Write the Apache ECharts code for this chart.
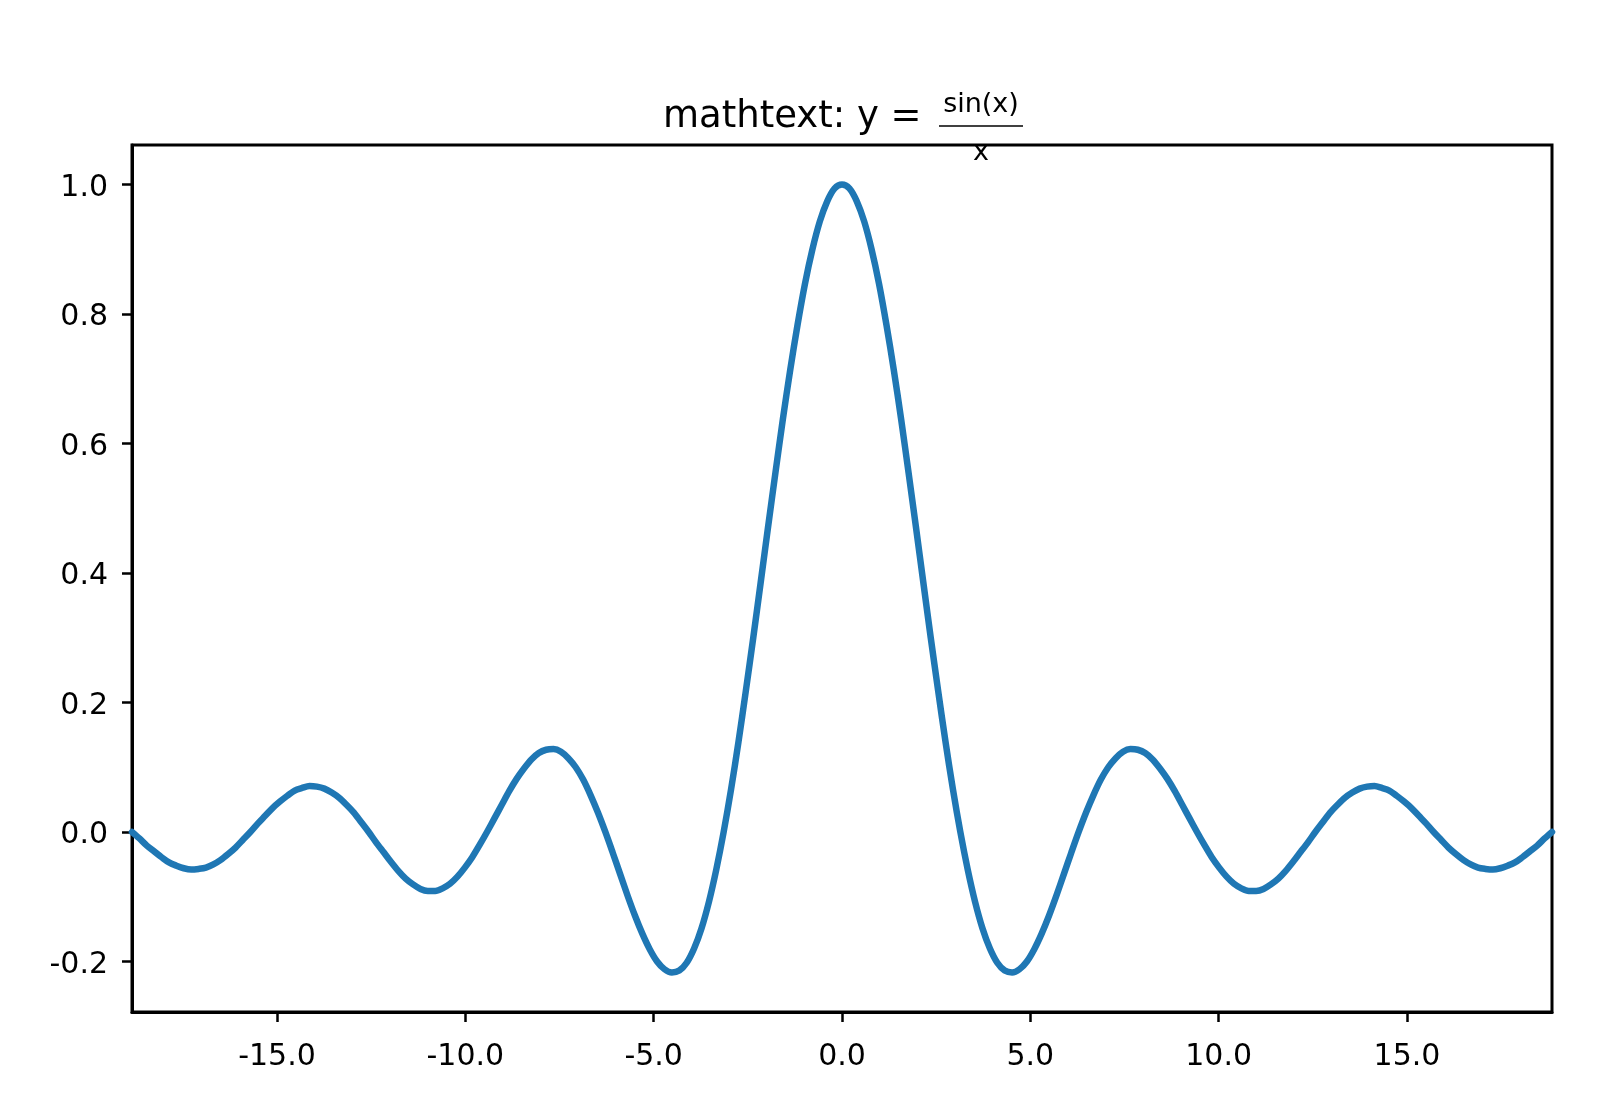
<!DOCTYPE html>
<html>
<head>
	<meta charset="utf-8" />
	<title>mathtext</title>
	<script src="https://cdn.jsdelivr.net/npm/echarts@6.0.0/dist/echarts.min.js"></script>
	<style>
		body { margin: 0; background: #fff; }
		#main { width: 1600px; height: 1120px; }
	</style>
</head>
<body>
	<div id="main"></div>
	<script type="text/javascript">
		// x positions
		var xs = [-18.850,
			-18.653, -18.457, -18.261, -18.064, -17.868, -17.671, -17.475, -17.279,
			-17.082, -16.886, -16.690, -16.493, -16.297, -16.101, -15.904, -15.708,
			-15.512, -15.315, -15.119, -14.923, -14.726, -14.530, -14.334, -14.137,
			-13.941, -13.744, -13.548, -13.352, -13.155, -12.959, -12.763, -12.566,
			-12.370, -12.174, -11.977, -11.781, -11.585, -11.388, -11.192, -10.996,
			-10.799, -10.603, -10.407, -10.210, -10.014, -9.817, -9.621, -9.425,
			-9.228, -9.032, -8.836, -8.639, -8.443, -8.247, -8.050, -7.854,
			-7.658, -7.461, -7.265, -7.069, -6.872, -6.676, -6.480, -6.283,
			-6.087, -5.890, -5.694, -5.498, -5.301, -5.105, -4.909, -4.712,
			-4.516, -4.320, -4.123, -3.927, -3.731, -3.534, -3.338, -3.142,
			-2.945, -2.749, -2.553, -2.356, -2.160, -1.963, -1.767, -1.571,
			-1.374, -1.178, -0.982, -0.785, -0.589, -0.393, -0.196,
			0, 0.196, 0.393, 0.589, 0.785, 0.982, 1.178, 1.374,
			1.571, 1.767, 1.963, 2.160, 2.356, 2.553, 2.749, 2.945,
			3.142, 3.338, 3.534, 3.731, 3.927, 4.123, 4.320, 4.516,
			4.712, 4.909, 5.105, 5.301, 5.498, 5.694, 5.890, 6.087,
			6.283, 6.480, 6.676, 6.872, 7.069, 7.265, 7.461, 7.658,
			7.854, 8.050, 8.247, 8.443, 8.639, 8.836, 9.032, 9.228,
			9.425, 9.621, 9.817, 10.014, 10.210, 10.407, 10.603, 10.799,
			10.996, 11.192, 11.388, 11.585, 11.781, 11.977, 12.174, 12.370,
			12.566, 12.763, 12.959, 13.155, 13.352, 13.548, 13.744, 13.941,
			14.137, 14.334, 14.530, 14.726, 14.923, 15.119, 15.315, 15.512,
			15.708, 15.904, 16.101, 16.297, 16.493, 16.690, 16.886, 17.082,
			17.279, 17.475, 17.671, 17.868, 18.064, 18.261, 18.457, 18.653,
			18.850];
		// y values of the curve
		var ys = [0,
			-0.010, -0.021, -0.030, -0.039, -0.047, -0.052, -0.056, -0.058,
			-0.057, -0.055, -0.050, -0.043, -0.034, -0.024, -0.012, 0,
			0.013, 0.025, 0.037, 0.047, 0.056, 0.064, 0.068, 0.071,
			0.070, 0.067, 0.061, 0.053, 0.042, 0.030, 0.015, 0,
			-0.016, -0.031, -0.046, -0.060, -0.072, -0.081, -0.088, -0.091,
			-0.091, -0.087, -0.080, -0.069, -0.055, -0.039, -0.020, 0,
			0.021, 0.042, 0.063, 0.082, 0.098, 0.112, 0.122, 0.127,
			0.128, 0.124, 0.114, 0.100, 0.081, 0.057, 0.030, 0,
			-0.032, -0.065, -0.098, -0.129, -0.157, -0.181, -0.200, -0.212,
			-0.217, -0.214, -0.202, -0.180, -0.149, -0.108, -0.058, 0,
			0.066, 0.139, 0.218, 0.300, 0.385, 0.471, 0.555, 0.637,
			0.714, 0.784, 0.847, 0.900, 0.943, 0.974, 0.994,
			1, 0.994, 0.974, 0.943, 0.900, 0.847, 0.784, 0.714,
			0.637, 0.555, 0.471, 0.385, 0.300, 0.218, 0.139, 0.066,
			0, -0.058, -0.108, -0.149, -0.180, -0.202, -0.214, -0.217,
			-0.212, -0.200, -0.181, -0.157, -0.129, -0.098, -0.065, -0.032,
			0, 0.030, 0.057, 0.081, 0.100, 0.114, 0.124, 0.128,
			0.127, 0.122, 0.112, 0.098, 0.082, 0.063, 0.042, 0.021,
			0, -0.020, -0.039, -0.055, -0.069, -0.080, -0.087, -0.091,
			-0.091, -0.088, -0.081, -0.072, -0.060, -0.046, -0.031, -0.016,
			0, 0.015, 0.030, 0.042, 0.053, 0.061, 0.067, 0.070,
			0.071, 0.068, 0.064, 0.056, 0.047, 0.037, 0.025, 0.013,
			0, -0.012, -0.024, -0.034, -0.043, -0.050, -0.055, -0.057,
			-0.058, -0.056, -0.052, -0.047, -0.039, -0.030, -0.021, -0.010,
			0];
		// tick labels
		var xTicks = [-15, -10, -5, 0, 5, 10, 15];
		var yTicks = [-0.2, 0, 0.2, 0.4, 0.6, 0.8, 1.0];

		var font = 'DejaVu Sans';
		var points = [];
		for (var i = 0; i < xs.length; i++) {
			points.push([xs[i], ys[i]]);
		}

		var myChart = echarts.init(document.getElementById('main'));
		var option = {
			backgroundColor: '#fff',
			animation: false,
			grid: {
				left: 132, right: 48, top: 145, bottom: 108,
				show: true, borderColor: '#000', borderWidth: 3,
				containLabel: false
			},
			xAxis: {
				type: 'value',
				min: -18.85, max: 18.85,
				splitLine: { show: false },
				axisLine: { show: true, onZero: false, lineStyle: { color: '#000', width: 3 } },
				axisTick: { show: true, inside: false, length: 10, customValues: xTicks,
					lineStyle: { color: '#000', width: 2.5 } },
				axisLabel: { customValues: xTicks, margin: 30, color: '#000', fontFamily: font, fontSize: 30,
					formatter: function (v) { return v.toFixed(1); } }
			},
			yAxis: {
				type: 'value',
				min: -0.278, max: 1.061,
				splitLine: { show: false },
				axisLine: { show: true, onZero: false, lineStyle: { color: '#000', width: 3 } },
				axisTick: { show: true, inside: false, length: 10, customValues: yTicks,
					lineStyle: { color: '#000', width: 2.5 } },
				axisLabel: { customValues: yTicks, margin: 24, color: '#000', fontFamily: font, fontSize: 30,
					// nudge the digits a little lower, like the reference
					formatter: function (v) { return '{s| }{v|' + v.toFixed(1) + '}'; },
					rich: {
						s: { fontSize: 1, lineHeight: 37 },
						v: { fontSize: 30, fontFamily: font, color: '#000', lineHeight: 30, verticalAlign: 'bottom' }
					}
				}
			},
			series: [{
				type: 'line',
				data: points,
				smooth: 0.3,
				showSymbol: false,
				lineStyle: { color: '#1f77b4', width: 6.5, cap: 'round', join: 'round' },
				z: 3
			}],
			// title with the fraction
			graphic: [
				{ type: 'text', x: 663, y: 117, z: 100,
					style: { text: 'mathtext: y = ', font: '37px "DejaVu Sans"', fill: '#000', align: 'left', verticalAlign: 'middle' } },
				{ type: 'text', x: 981, y: 105, z: 100,
					style: { text: 'sin(x)', font: '27px "DejaVu Sans"', fill: '#000', align: 'center', verticalAlign: 'middle' } },
				{ type: 'line', z: 100,
					shape: { x1: 939, y1: 126, x2: 1023, y2: 126 },
					style: { stroke: '#000', lineWidth: 1.6 } },
				{ type: 'text', x: 981, y: 153, z: 100,
					style: { text: 'x', font: '27px "DejaVu Sans"', fill: '#000', align: 'center', verticalAlign: 'middle' } }
			]
		};
		myChart.setOption(option);
	</script>
</body>
</html>
